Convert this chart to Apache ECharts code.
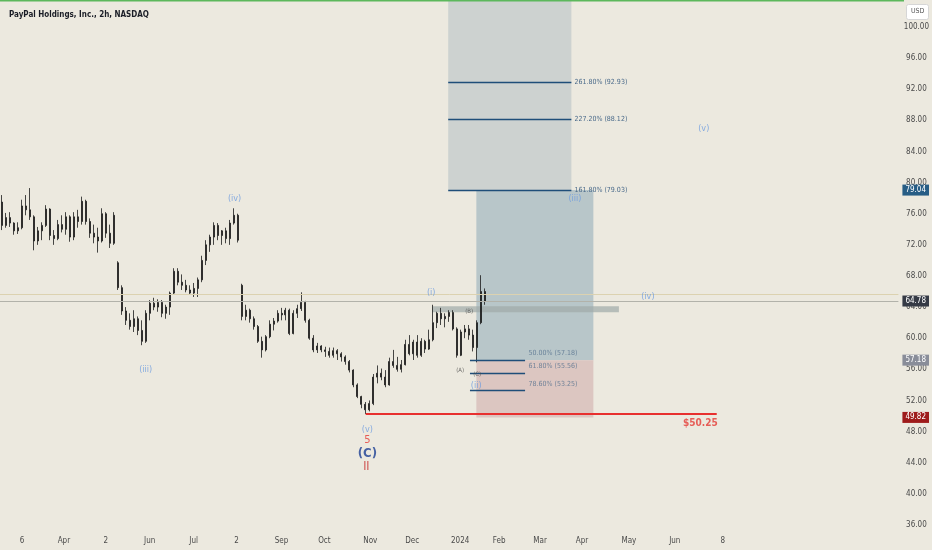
<!DOCTYPE html>
<html><head><meta charset="utf-8">
<script src="https://cdn.jsdelivr.net/npm/echarts@6/dist/echarts.min.js"></script>
<style>html,body{margin:0;padding:0;background:#ece9df;}#c{width:932px;height:550px;}</style>
</head><body><div id="c"></div>
<script>
// ---- price data: one candle per slot (slot index = bar group position) ----
const opens = [77.5,74.5,75.5,74.8,73.8,74.2,77.0,76.5,75.6,72.5,73.8,74.5,76.6,73.2,72.8,74.6,74.0,75.6,73.0,75.6,
75.0,77.6,75.0,73.5,73.0,72.5,76.0,73.5,72.2,69.7,66.5,63.5,62.3,61.5,62.5,61.0,59.6,63.2,64.5,64.0,
64.6,63.2,64.0,65.8,68.6,67.2,66.8,66.2,65.8,66.4,67.5,70.0,72.0,73.0,74.5,73.2,73.8,72.8,74.8,75.8,
66.8,62.8,63.6,62.5,61.5,59.6,58.5,60.2,61.8,62.2,63.2,63.0,63.6,60.6,63.2,63.8,64.6,62.3,60.0,58.5,
59.0,58.5,58.3,57.8,58.4,58.0,57.6,57.0,55.9,54.0,52.5,51.5,50.8,51.6,55.0,55.5,55.0,54.0,57.0,56.5,
56.0,56.6,59.2,58.0,59.5,57.8,59.6,58.6,59.8,62.0,63.2,62.5,62.8,63.3,61.2,57.8,60.8,61.2,60.4,58.8,
62.0,66.0];
const closes = [74.5,75.5,74.8,73.8,74.2,77.0,76.5,75.6,72.5,73.8,74.5,76.6,73.2,72.8,74.6,74.0,75.6,73.0,75.6,75.0,
77.6,75.0,73.5,73.0,72.5,76.0,73.5,72.2,75.8,66.5,63.5,62.3,61.5,62.5,61.0,59.6,63.2,64.5,64.0,64.6,
63.2,64.0,65.8,68.6,67.2,66.8,66.2,65.8,66.4,67.5,70.0,72.0,73.0,74.5,73.2,73.8,72.8,74.8,75.8,72.6,
62.8,63.6,62.5,61.5,59.6,58.5,60.2,61.8,62.2,63.2,63.0,63.6,60.6,63.2,63.8,64.6,62.3,60.0,58.5,59.0,
58.5,58.3,57.8,58.4,58.0,57.6,57.0,55.9,54.0,52.5,51.5,50.8,51.6,55.0,55.5,55.0,54.0,57.0,56.5,56.0,
56.6,59.2,58.0,59.5,57.8,59.6,58.6,59.8,62.0,63.2,62.5,62.8,63.3,61.2,57.8,60.8,61.2,60.4,58.8,62.0,
66.0,64.78];
const lows = [73.9,74.2,74.3,73.3,73.4,74.0,75.8,75.2,71.3,72.0,72.6,74.3,72.6,72.0,72.6,73.6,73.3,72.4,72.6,74.2,
74.6,74.6,72.9,72.2,71.0,72.3,72.9,71.6,72.0,66.2,63.0,61.7,61.1,60.8,60.4,59.1,59.4,62.3,63.6,63.4,
62.7,62.5,63.0,65.6,66.8,66.2,65.9,65.6,65.3,65.3,67.2,69.4,71.1,72.0,72.6,72.0,72.2,72.0,74.6,72.3,
62.3,62.3,62.0,61.1,59.4,57.5,58.3,60.0,61.0,62.0,62.3,62.3,60.4,60.5,62.6,63.5,62.0,59.8,58.2,58.1,
58.2,57.6,57.5,57.5,57.2,57.0,56.6,55.6,53.7,52.3,51.0,50.25,50.6,51.4,54.2,54.6,53.7,53.9,56.2,55.7,
55.6,56.5,57.8,57.2,57.5,57.6,58.1,58.5,59.6,61.3,61.7,61.4,62.1,61.0,57.5,57.7,60.0,59.8,58.3,56.9,
61.8,64.3];
const highs = [78.4,76.1,76.2,74.9,74.9,77.8,78.4,79.3,75.8,74.3,74.9,77.1,76.7,73.9,75.2,75.8,76.2,75.8,76.2,76.5,
78.2,77.8,75.4,74.6,74.2,76.7,76.2,74.6,76.2,69.9,66.8,64.0,63.2,63.6,62.8,62.3,63.6,64.9,65.2,65.0,
64.9,64.3,66.0,69.0,69.0,68.2,67.5,66.8,67.1,67.8,70.6,72.6,73.3,74.9,74.8,73.9,74.2,75.2,76.7,76.0,
67.0,64.3,63.8,62.8,61.7,60.2,60.4,62.3,62.6,63.6,63.9,63.9,63.8,63.6,64.3,65.9,64.8,62.5,60.4,59.4,
59.1,58.9,58.8,58.8,58.6,58.2,57.8,57.2,56.0,54.2,52.6,51.8,52.0,55.4,56.5,56.1,55.9,57.5,58.5,57.6,
57.2,59.8,60.4,59.8,60.4,60.0,59.8,61.1,64.3,63.4,63.9,63.2,63.6,63.6,61.4,61.1,61.7,61.7,61.1,62.3,
68.1,66.4];

// ---- axes ----
const slotCount = 225;
const priceMin = 35.35, priceMax = 103.47;
const priceTicks = [36,40,44,48,52,56,60,64,68,72,76,80,84,88,92,96,100];
const timeTickPos = [5.5,16,26.5,37.5,48.5,59.25,70.5,81.25,92.75,103.25,115.25,125,135.25,145.75,157.5,169,181];
const timeTickLabels = ['6','Apr','2','Jun','Jul','2','Sep','Oct','Nov','Dec','2024','Feb','Mar','Apr','May','Jun','8'];

// ---- drawings ----
const fibExtLevels = [92.93, 88.12, 79.03];
const fibExtNames = ['261.80% (92.93)','227.20% (88.12)','161.80% (79.03)'];
const fibExtX = [112.25, 143.1];
const fibRetLevels = [57.18, 55.56, 53.25];
const fibRetNames = ['50.00% (57.18)','61.80% (55.56)','78.60% (53.25)'];
const fibRetX = [117.7, 131.5];
const fibBoxY = [79.03, priceMax];
const posX = [119.3, 148.6];
const posTarget = 79.04, posEntry = 57.18, posStop = 49.82;
const bBandX = [108.25, 155];
const bBandY = [63.35, 64.1];
const supportLevel = 50.25;
const supportX = [91.6, 179.5];
const lastPrice = 64.78;
const tanLevel = 65.7;

const waveText = ['(iv)','(iii)','(v)','5','(C)','II','(i)','(B)','(A)','(C)','(ii)','(iii)','(iv)','(v)','$50.25'];
const waveX = [58.75,36.5,92,92,92,91.75,108,117.5,115.25,119.5,119.25,144,162.25,176.25,175.4];
const waveY = [78.0,56.0,48.2,46.9,45.2,43.4,65.9,63.4,55.9,55.4,53.9,77.9,65.4,86.9,49.0];
const waveKind = ['wave','wave','wave','red','major','red2','wave','sub','sub','sub','wave','wave','wave','wave','target'];

const FONT = "'Liberation Sans Narrow','DejaVu Sans Condensed',Roboto,sans-serif";
const kindStyle = {
  wave: {color:'#6b9be0', fontSize:9},
  red: {color:'#e53935', fontSize:11},
  red2: {color:'#c62828', fontSize:12},
  major: {color:'#1c3f94', fontSize:13, fontWeight:'bold'},
  sub: {color:'#4a4a4a', fontSize:6},
  target: {color:'#e53935', fontSize:10, fontWeight:'bold'}
};

const candleData = opens.map((o,i)=>[i+0.5, o, closes[i], lows[i], highs[i]]);

const chart = echarts.init(document.getElementById('c'), null, {renderer:'canvas'});
const tag = (v, bg) => ({
  yAxis: v,
  lineStyle:{color:'rgba(0,0,0,0)', width:0},
  label:{show:true, position:'end', distance:4, formatter: v.toFixed(2), color:'#fff',
    backgroundColor:bg, padding:[2,3,1,3], fontSize:8, fontFamily:FONT}
});

chart.setOption({
  animation:false,
  backgroundColor:'#ece9df',
  title:{text:'PayPal Holdings, Inc., 2h, NASDAQ', left:4, top:6,
    textStyle:{fontSize:8, fontWeight:600, color:'#1a1d26', fontFamily:FONT}},
  grid:{left:0, right:32, top:0, bottom:20},
  xAxis:{type:'value', min:0, max:slotCount,
    axisLine:{show:false}, axisTick:{show:false}, splitLine:{show:false},
    axisLabel:{customValues: timeTickPos, formatter: v => timeTickLabels[timeTickPos.indexOf(v)] || '',
      color:'#4a4a4a', fontSize:8, margin:7, fontFamily:FONT}},
  yAxis:{type:'value', position:'right', min:priceMin, max:priceMax,
    axisLine:{show:false}, axisTick:{show:false}, splitLine:{show:false},
    axisLabel:{customValues: priceTicks, formatter: v => v.toFixed(2), color:'#4a4a4a',
      fontSize:8, margin:18, align:'center', fontFamily:FONT}},
  graphic:[
    {type:'rect', left:0, top:0, shape:{width:904, height:1.5}, style:{fill:'#5cb85c'}, z:100},
    {type:'rect', left:906, top:4, shape:{width:22, height:15, r:2}, style:{fill:'#ffffff', stroke:'#d6d6d6'}, z:100},
    {type:'text', left:911, top:8, style:{text:'USD', fill:'#555', font:'7px '+FONT}, z:101}
  ],
  series:[
    {type:'line', name:'zones', data:[], z:1, silent:true,
     markArea:{silent:true, data:[
       [{coord:[fibExtX[0], fibBoxY[0]], itemStyle:{color:'#cdd2d0'}}, {coord:[fibExtX[1], fibBoxY[1]]}],
       [{coord:[posX[0], posEntry], itemStyle:{color:'#b8c6c9'}}, {coord:[posX[1], posTarget]}],
       [{coord:[posX[0], posStop], itemStyle:{color:'#dcc6c1'}}, {coord:[posX[1], posEntry]}],
       [{coord:[bBandX[0], bBandY[0]], itemStyle:{color:'rgba(160,170,168,0.7)'}}, {coord:[bBandX[1], bBandY[1]]}]
     ]}},
    {type:'line', name:'levels', data:[], z:2, silent:true,
     markLine:{silent:true, symbol:['none','none'], data:[
       {yAxis: tanLevel, lineStyle:{color:'#dcd2b0', width:1, type:'solid'}, label:{show:false}},
       {yAxis: lastPrice, lineStyle:{color:'#b2b2aa', width:1, type:'solid'}, label:{show:false}}
     ]}},
    {type:'candlestick', name:'PYPL', data:candleData, z:3, barWidth:1.5,
     itemStyle:{color:'#1b1b1b', color0:'#1b1b1b', borderColor:'#1b1b1b', borderColor0:'#1b1b1b', borderWidth:0.8}},
    {type:'line', name:'drawings', data:[], z:4, silent:true,
     markLine:{silent:true, symbol:['none','none'], data:[
       ...fibExtLevels.map((v,i)=>[
         {coord:[fibExtX[0], v], lineStyle:{color:'#1f4e79', width:1.3, type:'solid'},
          label:{show:true, position:'end', distance:3, formatter:fibExtNames[i], color:'#4a6a8a', fontSize:7, fontFamily:FONT}},
         {coord:[fibExtX[1], v]}]),
       ...fibRetLevels.map(v=>[
         {coord:[fibRetX[0], v], lineStyle:{color:'#1f4e79', width:1.3, type:'solid'}, label:{show:false}},
         {coord:[fibRetX[1], v]}]),
       [{coord:[supportX[0], supportLevel], lineStyle:{color:'#e8302f', width:2, type:'solid'}, label:{show:false}},
        {coord:[supportX[1], supportLevel]}],
       tag(posTarget,'#275d85'),
       tag(lastPrice,'#353a45'),
       tag(posEntry,'#898d99'),
       tag(posStop,'#9e1b1b')
     ]}},
    {type:'scatter', name:'fibRetLabels', z:5, silent:true, symbolSize:1,
     itemStyle:{color:'rgba(0,0,0,0)'},
     data: fibRetLevels.map((v,i)=>({value:[fibRetX[1], v], name:fibRetNames[i]})),
     label:{show:true, position:'right', distance:3, offset:[0,-7], formatter:p=>p.name,
       color:'#56728e', fontSize:7, fontFamily:FONT}},
    {type:'scatter', name:'waves', z:6, silent:true, symbolSize:1,
     itemStyle:{color:'rgba(0,0,0,0)'},
     data: waveText.map((t,i)=>({value:[waveX[i], waveY[i]], name:t,
        label:Object.assign({show:true, position:'inside', formatter:t, fontFamily:FONT}, kindStyle[waveKind[i]])}))}
  ]
});
</script></body></html>
